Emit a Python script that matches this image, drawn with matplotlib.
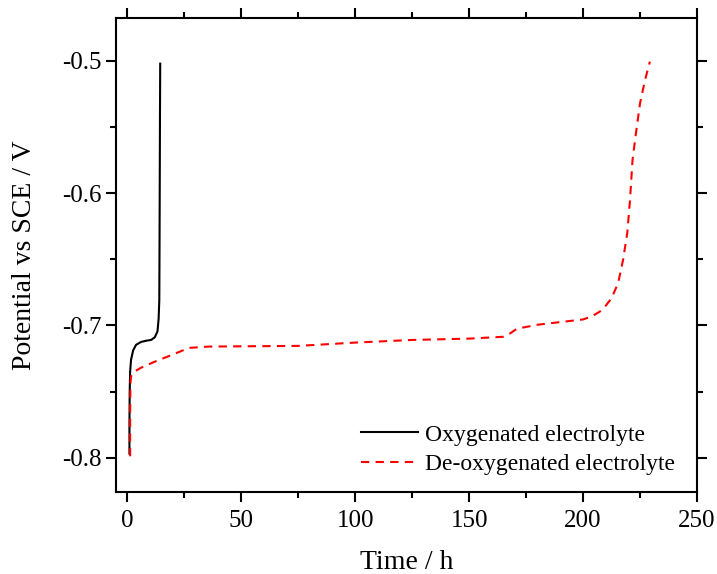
import matplotlib
matplotlib.use("Agg")
import matplotlib.pyplot as plt
from matplotlib.ticker import MultipleLocator

plt.rcParams['font.family'] = ['Liberation Serif', 'DejaVu Serif']

# --- datos ---
t_oxy = [0.9, 0.9, 1.0, 1.2, 1.6, 2.5, 3.8, 6.0, 8.5, 10.4, 12.0, 13.2, 13.7, 14.0, 14.1, 14.2, 14.3, 14.4]
v_oxy = [-0.797, -0.775, -0.751, -0.735, -0.726, -0.719, -0.7147, -0.7125, -0.7115, -0.711, -0.709, -0.7046,
         -0.695, -0.681, -0.64, -0.59, -0.54, -0.502]

t_deoxy = [1.2, 1.2, 1.3, 1.6, 3.0, 6.0, 12.6, 20.0, 27.0, 36.0, 75.0, 100.0, 125.0, 150.0, 165.0, 168.0,
           171.0, 180.0, 190.0, 200.0, 204.0, 207.4, 210.0, 212.5, 215.4, 217.6, 219.4, 220.6, 221.7,
           223.2, 225.0, 227.2, 229.3]
v_deoxy = [-0.799, -0.77, -0.745, -0.7386, -0.735, -0.732, -0.727, -0.722, -0.717, -0.716, -0.7155, -0.713,
           -0.711, -0.710, -0.7086, -0.706, -0.7025, -0.6995, -0.6975, -0.6955, -0.693, -0.6895, -0.685,
           -0.6794, -0.668, -0.650, -0.630, -0.605, -0.575, -0.5547, -0.532, -0.5144, -0.5005]

fig = plt.figure(figsize=(7.17, 5.74), dpi=100)
ax = fig.add_axes([0.1618, 0.1429, 0.8103, 0.8257])

ax.plot(t_oxy, v_oxy, color='black', lw=1.5, label='Oxygenated electrolyte')
ax.plot(t_deoxy, v_deoxy, color='red', lw=1.5, dashes=(4, 3), label='De-oxygenated electrolyte')

ax.set_xlim(-5, 250)
ax.set_ylim(-0.826, -0.4675)
ax.xaxis.set_major_locator(MultipleLocator(50))
ax.xaxis.set_minor_locator(MultipleLocator(25))
ax.yaxis.set_major_locator(MultipleLocator(0.1))
ax.yaxis.set_minor_locator(MultipleLocator(0.05))
ax.set_yticks([-0.8, -0.7, -0.6, -0.5])
ax.set_yticklabels(['-0.8', '-0.7', '-0.6', '-0.5'])

ax.tick_params(which='both', direction='out', top=True, right=True, labelsize=18, width=1.5)
ax.tick_params(which='major', length=7)
ax.tick_params(which='minor', length=4)
ax.tick_params(axis='x', pad=6)
for s in ax.spines.values():
    s.set_linewidth(1.5)

ax.set_xlabel('Time / h', fontsize=20, labelpad=13)
ax.set_ylabel('Potential vs SCE / V', fontsize=20, labelpad=18)

ax.legend(loc='lower right', frameon=False, fontsize=17, handlelength=2.4, handletextpad=0.3,
          labelspacing=0.35, borderaxespad=0.3, bbox_to_anchor=(0.99, 0.0))

fig.savefig('out.png', dpi=100)
